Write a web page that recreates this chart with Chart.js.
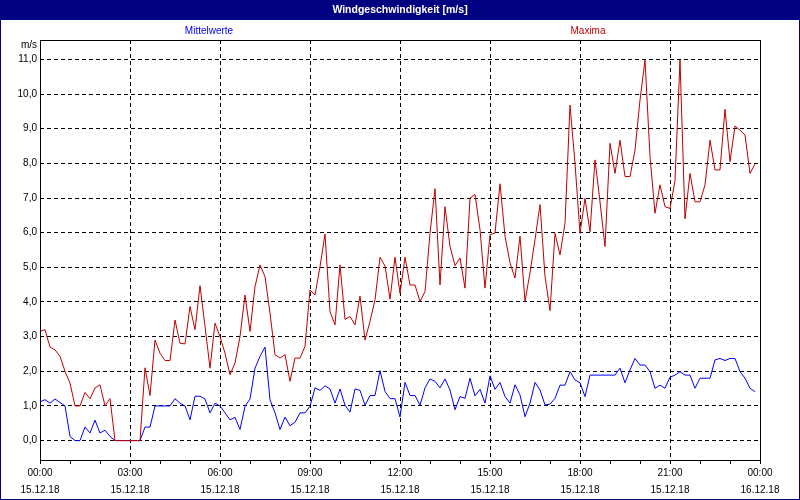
<!DOCTYPE html>
<html>
<head>
<meta charset="utf-8">
<script src="https://cdn.jsdelivr.net/npm/chart.js@4.4.0/dist/chart.umd.min.js"></script>
<style>
  body { margin: 0; background: #fff; }
  canvas { display: block; }
</style>
</head>
<body>
<canvas id="myChart" width="800" height="500"></canvas>
<script>
// Data (10 minute values, 15.12.18 00:00 - 23:50)
const chartTitle = "Windgeschwindigkeit [m/s]";
const seriesNames = ["Mittelwerte", "Maxima"];
const unitLabel = "m/s";
const stepMinutes = 10;

const meanValues = [
  1.12, 1.18, 1.08, 1.2, 1.1, 1.0, 0.12, 0, 0, 0.39,
  0.22, 0.59, 0.22, 0.3, 0.12, 0, 0, 0, 0, 0,
  0, 0.39, 0.39, 1.0, 1.0, 1.0, 1.0, 1.21, 1.08, 1.0,
  0.6, 1.28, 1.28, 1.2, 0.8, 1.08, 1.0, 0.8, 0.6, 0.67,
  0.32, 0.99, 1.2, 2.09, 2.43, 2.7, 1.18, 0.8, 0.32, 0.68,
  0.43, 0.53, 0.8, 0.8, 0.99, 1.52, 1.45, 1.58, 1.49, 1.08,
  1.49, 1.02, 0.82, 1.49, 1.45, 1.02, 1.3, 1.3, 2.02, 1.42,
  1.21, 1.21, 0.68, 1.68, 1.3, 1.3, 1.02, 1.52, 1.78, 1.71,
  1.52, 1.78, 1.46, 0.89, 1.27, 1.22, 1.8, 1.29, 1.48, 1.08,
  1.87, 1.48, 1.68, 1.27, 1.08, 1.61, 1.32, 0.69, 1.08, 1.68,
  1.46, 1.03, 1.05, 1.22, 1.6, 1.6, 1.99, 1.75, 1.67, 1.27,
  1.89, 1.89, 1.89, 1.89, 1.89, 1.89, 2.09, 1.67, 2.04, 2.37,
  2.18, 2.18, 1.99, 1.51, 1.6, 1.51, 1.83, 1.89, 1.99, 1.89,
  1.89, 1.51, 1.8, 1.8, 1.8, 2.33, 2.37, 2.31, 2.37, 2.37,
  1.99, 1.8, 1.51, 1.41
];

const maxValues = [
  3.15, 3.2, 2.7, 2.62, 2.43, 2.0, 1.66, 1.0, 1.0, 1.39,
  1.21, 1.52, 1.61, 1.0, 1.21, 0, 0, 0, 0, 0,
  0, 2.1, 1.3, 2.9, 2.52, 2.31, 2.31, 3.48, 2.81, 2.79,
  3.87, 3.2, 4.47, 3.3, 2.09, 3.39, 3.0, 2.52, 1.9, 2.24,
  3.0, 4.2, 3.15, 4.44, 5.07, 4.73, 3.68, 2.48, 2.38, 2.48,
  1.71, 2.38, 2.38, 2.72, 4.35, 4.2, 5.02, 5.96, 3.72, 3.34,
  5.07, 3.5, 3.58, 3.34, 4.17, 2.9, 3.44, 4.06, 5.29, 5.04,
  4.08, 5.29, 4.25, 5.29, 4.49, 4.49, 4.01, 4.3, 5.98, 7.27,
  4.49, 6.75, 5.6, 5.05, 5.27, 4.4, 7.0, 7.1, 6.09, 4.4,
  5.94, 5.99, 7.41, 5.9, 5.13, 4.69, 5.9, 4.02, 4.84, 5.8,
  6.81, 4.74, 3.75, 5.98, 5.36, 6.27, 9.68, 8.0, 5.98, 6.99,
  6.03, 8.1, 6.89, 5.6, 8.58, 7.71, 8.67, 7.62, 7.62, 8.38,
  9.83, 10.98, 8.2, 6.56, 7.38, 6.75, 6.7, 7.5, 10.98, 6.4,
  7.71, 6.89, 6.89, 7.38, 8.67, 7.81, 7.81, 9.56, 8.05, 9.08,
  8.96, 8.82, 7.71, 7.98
];

const timeLabels = ["00:00", "03:00", "06:00", "09:00", "12:00", "15:00", "18:00", "21:00", "00:00"];
const dateLabels = ["15.12.18", "15.12.18", "15.12.18", "15.12.18", "15.12.18", "15.12.18", "15.12.18", "15.12.18", "16.12.18"];
const yTicks = [0, 1, 2, 3, 4, 5, 6, 7, 8, 9, 10, 11];

const FONT = "'Liberation Sans', Arial, sans-serif";
const NAVY = "#000080";
const BLUE = "#0000ff";
const RED = "#c00000";

const ctx = document.getElementById("myChart");

// time (minutes) on x, value on y
const toPoints = (arr) => arr.map((v, i) => ({ x: i * stepMinutes, y: v }));

// frame, title bar and the two series captions
const framePlugin = {
  id: "frame",
  beforeDraw: (chart) => {
    const c = chart.ctx;
    c.save();
    c.fillStyle = "#fff";
    c.fillRect(0, 0, chart.width, chart.height);
    c.restore();
  },
  afterDraw: (chart) => {
    const c = chart.ctx;
    const a = chart.chartArea;
    c.save();
    // plot box
    c.strokeStyle = "#000";
    c.lineWidth = 1;
    c.strokeRect(a.left + 0.5, a.top + 0.5, a.right - a.left, a.bottom - a.top);
    // title bar
    c.fillStyle = NAVY;
    c.fillRect(0, 0, chart.width, 20);
    c.fillStyle = "#fff";
    c.font = "bold 10.5px " + FONT;
    c.textAlign = "center";
    c.textBaseline = "middle";
    c.fillText(chartTitle, 400, 10);
    // captions
    c.font = "10px " + FONT;
    c.fillStyle = BLUE;
    c.fillText(seriesNames[0], 209, 31);
    c.fillStyle = RED;
    c.fillText(seriesNames[1], 588, 31);
    // unit
    c.fillStyle = "#000";
    c.textAlign = "right";
    c.fillText(unitLabel, 37, 45);
    // outer border
    c.strokeStyle = NAVY;
    c.strokeRect(0.5, 0.5, chart.width - 1, chart.height - 1);
    c.restore();
  },
};

const myChart = new Chart(ctx, {
  type: "line",
  data: {
    datasets: [
      {
        label: seriesNames[0],
        data: toPoints(meanValues),
        borderColor: BLUE,
        borderWidth: 1,
        pointRadius: 0,
        tension: 0,
        order: 1,
      },
      {
        label: seriesNames[1],
        data: toPoints(maxValues),
        borderColor: RED,
        borderWidth: 1,
        pointRadius: 0,
        tension: 0,
        order: 0,
      },
    ],
  },
  options: {
    responsive: false,
    animation: false,
    devicePixelRatio: 1,
    layout: { padding: { top: 40, right: 40, left: 0, bottom: 0 } },
    plugins: {
      legend: { display: false },
      tooltip: { enabled: false },
    },
    scales: {
      x: {
        type: "linear",
        min: 0,
        max: 1440,
        afterFit: (s) => { s.height = 40; },
        afterBuildTicks: (s) => {
          const t = [];
          for (let m = 0; m <= 1440; m += 60) t.push({ value: m });
          s.ticks = t;
        },
        ticks: {
          autoSkip: false,
          maxRotation: 0,
          padding: 1,
          color: "#000",
          font: { family: FONT, size: 10, lineHeight: 1.7 },
          callback: (v) => (v % 180 === 0 ? [timeLabels[v / 180], dateLabels[v / 180]] : ""),
        },
        grid: {
          color: (c) => (c.tick && c.tick.value % 180 === 0 ? "#000" : "rgba(0,0,0,0)"),
          tickColor: "#000",
          tickLength: 4,
          lineWidth: 1,
        },
        border: { display: false, dash: [4, 3] },
      },
      y: {
        min: -0.56,
        max: 11.56,
        afterFit: (s) => { s.width = 40; },
        afterBuildTicks: (s) => { s.ticks = yTicks.map((v) => ({ value: v })); },
        ticks: {
          padding: 3,
          color: "#000",
          font: { family: FONT, size: 10 },
          callback: (v) => v.toFixed(1).replace(".", ","),
        },
        grid: { color: "#000", drawTicks: false, lineWidth: 1 },
        border: { display: false, dash: [4, 3] },
      },
    },
  },
  plugins: [framePlugin],
});
</script>
</body>
</html>
